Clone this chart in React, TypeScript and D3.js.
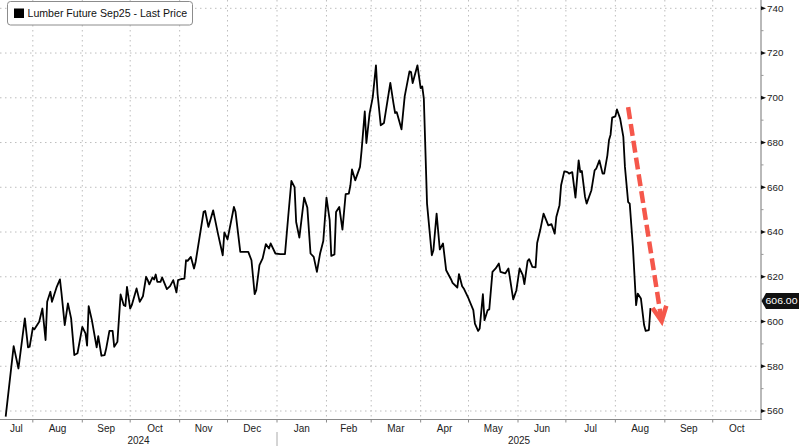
import React from "react";
import * as d3 from "d3";

const seriesName = "Lumber Future Sep25 - Last Price";

const dates = [
  "2024-07-15","2024-07-20","2024-07-23","2024-07-27","2024-07-29","2024-07-30","2024-08-01","2024-08-02","2024-08-04","2024-08-05",
  "2024-08-07","2024-08-09","2024-08-10","2024-08-12","2024-08-13","2024-08-16","2024-08-18","2024-08-19","2024-08-21","2024-08-23",
  "2024-08-25","2024-08-27","2024-08-29","2024-09-01","2024-09-03","2024-09-04","2024-09-05","2024-09-07","2024-09-10","2024-09-11",
  "2024-09-13","2024-09-15","2024-09-16","2024-09-18","2024-09-20","2024-09-21","2024-09-23","2024-09-25","2024-09-27","2024-09-28",
  "2024-09-29","2024-10-01","2024-10-02","2024-10-05","2024-10-07","2024-10-09","2024-10-11","2024-10-12","2024-10-13","2024-10-15",
  "2024-10-16","2024-10-17","2024-10-18","2024-10-20","2024-10-21","2024-10-24","2024-10-26","2024-10-28","2024-10-30","2024-10-31",
  "2024-11-02","2024-11-04","2024-11-05","2024-11-06","2024-11-08","2024-11-10","2024-11-11","2024-11-16","2024-11-17","2024-11-19",
  "2024-11-22","2024-11-25","2024-11-28","2024-11-29","2024-12-01","2024-12-05","2024-12-06","2024-12-09","2024-12-14","2024-12-16",
  "2024-12-18","2024-12-19","2024-12-21","2024-12-23","2024-12-25","2024-12-27","2024-12-28","2024-12-31","2025-01-03","2025-01-06",
  "2025-01-08","2025-01-10","2025-01-12","2025-01-13","2025-01-15","2025-01-18","2025-01-20","2025-01-22","2025-01-24","2025-01-26",
  "2025-01-28","2025-01-30","2025-02-01","2025-02-03","2025-02-04","2025-02-06","2025-02-07","2025-02-09","2025-02-11","2025-02-13",
  "2025-02-15","2025-02-16","2025-02-17","2025-02-19","2025-02-22","2025-02-23","2025-02-25","2025-02-26","2025-02-28","2025-03-02",
  "2025-03-04","2025-03-05","2025-03-07","2025-03-09","2025-03-13","2025-03-15","2025-03-16","2025-03-17","2025-03-20","2025-03-22",
  "2025-03-25","2025-03-26","2025-03-27","2025-03-30","2025-04-01","2025-04-02","2025-04-03","2025-04-05","2025-04-08","2025-04-09",
  "2025-04-11","2025-04-13","2025-04-15","2025-04-17","2025-04-20","2025-04-21","2025-04-24","2025-04-25","2025-04-27","2025-04-28",
  "2025-05-01","2025-05-04","2025-05-05","2025-05-07","2025-05-08","2025-05-10","2025-05-11","2025-05-13","2025-05-14","2025-05-16",
  "2025-05-18","2025-05-20","2025-05-21","2025-05-24","2025-05-26","2025-05-27","2025-05-29","2025-05-31","2025-06-02","2025-06-04",
  "2025-06-05","2025-06-07","2025-06-08","2025-06-10","2025-06-12","2025-06-13","2025-06-15","2025-06-17","2025-06-20","2025-06-22",
  "2025-06-24","2025-06-25","2025-06-27","2025-06-28","2025-06-30","2025-07-02","2025-07-03","2025-07-05","2025-07-07","2025-07-09",
  "2025-07-10","2025-07-11","2025-07-13","2025-07-14","2025-07-17","2025-07-19","2025-07-20","2025-07-22","2025-07-24","2025-07-25",
  "2025-07-27","2025-07-28","2025-07-29","2025-07-30","2025-08-01","2025-08-02","2025-08-04","2025-08-06","2025-08-07","2025-08-09",
  "2025-08-10","2025-08-12","2025-08-14","2025-08-15","2025-08-17","2025-08-19","2025-08-20","2025-08-22","2025-08-23"
];

const prices = [
  557.5,589,579,601.4,588.4,588.7,597.2,596.5,598.8,599.9,
  605.8,591.7,608.8,613.3,608.8,615.5,618.8,612.5,598.4,608.1,
  601.4,585,585.8,597.6,594.7,589.2,606.9,600.6,588.4,593.5,
  584.7,585,588,595.8,595.8,588.7,590.9,612.1,607.3,606.9,
  615.5,605.8,607.3,614.8,608.8,611.3,620,618.5,616.6,619.7,
  618.8,621,617.7,617.7,619.7,614.5,615.8,618.5,613,618.5,
  619,619.2,627.4,627.1,628.9,623.7,626.6,649,649.4,642.3,
  649.7,639.3,629.6,639.8,636.7,651.2,649,631.1,631.1,627.4,
  612.2,614,625.2,628.2,634.6,632.6,634.9,630.4,630.1,630.1,
  646.7,662.8,660.1,644.5,637.5,655.4,650.9,630.4,628.9,622.2,
  630.4,636,655.4,645.3,629.3,630,649,651.2,641.1,656.9,
  657.2,660.9,668,663.1,669.1,676.5,693.9,679.8,692.9,700.3,
  714.5,701.8,687.7,688.7,706.7,697.4,693.2,693.6,685.9,700.6,
  711.8,711.5,706.6,714.5,704.3,705.1,699.6,652.7,629.6,631.9,
  648.2,632.2,634.9,622.9,618.9,617.3,615.2,621.2,615.8,614.8,
  610.3,605.1,599.1,595.8,596.9,612.2,600.6,605.1,605.4,622.2,
  623.7,625.9,622.2,621.5,623.7,619.2,609.9,614,623.7,620.7,
  616.7,627,627.9,624.4,624.2,635.1,641.1,648.2,643,643.5,
  639.3,646.7,652,660.9,667.1,666.8,666.1,666.8,655.4,672,
  666.8,667.3,655.7,652.7,658.7,667.6,668.3,672,666.1,666.1,
  674.3,681,683.5,691.1,691.7,694.8,690.7,682.5,669.1,653.4,
  652.7,633.3,607.3,612.5,610.3,598.4,595.8,596.2,606
];

const yTicks = [560, 580, 600, 620, 640, 660, 680, 700, 720, 740];
const yMinorTicks = [570, 590, 610, 630, 650, 670, 690, 710, 730];
const yearLabels = ["2024", "2025"];
const lastPrice = 606.0;
const arrowDates = ["2025-08-09", "2025-08-30"];
const arrowValues = [695.8, 600.2];

const W = 800;
const H = 446;
const plotRight = 761;
const plotBottom = 419.5;
const font = "'Liberation Sans', Arial, sans-serif";

export default function App() {
  const parse = d3.timeParse("%Y-%m-%d");
  const data = dates.map((d, i) => ({ date: parse(d) as Date, value: prices[i] }));

  const x = d3
    .scaleTime()
    .domain([new Date(2024, 6, 11), new Date(2025, 9, 31)])
    .range([-0.7, 760.6]);
  const y = d3.scaleLinear().domain([560, 740]).range([411, 8.3]);

  const line = d3
    .line<{ date: Date; value: number }>()
    .x((d) => x(d.date))
    .y((d) => y(d.value));

  const monthStarts = d3.timeMonth.range(new Date(2024, 6, 1), new Date(2025, 10, 1));
  const boundaries = monthStarts.filter((m) => x(m) > 0 && x(m) < plotRight);
  const fmt = d3.timeFormat("%b");

  const monthLabels = monthStarts.map((m) => {
    const next = d3.timeMonth.offset(m, 1);
    const a = Math.max(0, x(m));
    const b = Math.min(plotRight, x(next));
    return { label: fmt(m), cx: (a + b) / 2 };
  });

  const yearStart = x(new Date(2025, 0, 1));
  const yearPos = [(0 + yearStart) / 2, (yearStart + plotRight) / 2];

  const ax1 = x(parse(arrowDates[0]) as Date);
  const ay1 = y(arrowValues[0]);
  const ax2 = x(parse(arrowDates[1]) as Date);
  const ay2 = y(arrowValues[1]);
  const ang = Math.atan2(ay2 - ay1, ax2 - ax1);
  const headLen = 16;
  const spread = 0.45;
  const h1 = [ax2 - headLen * Math.cos(ang - spread), ay2 - headLen * Math.sin(ang - spread)];
  const h2 = [ax2 - headLen * Math.cos(ang + spread), ay2 - headLen * Math.sin(ang + spread)];
  const shaftEndX = ax2 - 4 * Math.cos(ang);
  const shaftEndY = ay2 - 4 * Math.sin(ang);

  const lpY = y(lastPrice) - 7;

  return (
    <svg
      width={W}
      height={H}
      style={{ position: "absolute", left: 0, top: 0, background: "#fff" }}
      fontFamily={font}
    >
      <rect x={0} y={0} width={W} height={H} fill="#fff" />
      {/* gridlines */}
      {yTicks.map((t) => (
        <line
          key={"hg" + t}
          x1={0}
          x2={plotRight}
          y1={y(t)}
          y2={y(t)}
          stroke="#bdbdbd"
          strokeWidth={1}
          strokeDasharray="1.5 3.5"
        />
      ))}
      {boundaries.map((m, i) => (
        <line
          key={"vg" + i}
          x1={x(m)}
          x2={x(m)}
          y1={0}
          y2={plotBottom}
          stroke="#bdbdbd"
          strokeWidth={1}
          strokeDasharray="1.5 3.5"
        />
      ))}

      {/* price line */}
      <path d={line(data) || ""} fill="none" stroke="#000" strokeWidth={1.8} strokeLinejoin="round" />

      {/* arrow */}
      <line
        x1={ax1}
        y1={ay1}
        x2={shaftEndX}
        y2={shaftEndY}
        stroke="#f5574b"
        strokeWidth={4.5}
        strokeDasharray="12 5"
      />
      <polyline
        points={`${h1[0]},${h1[1]} ${ax2},${ay2} ${h2[0]},${h2[1]}`}
        fill="none"
        stroke="#f5574b"
        strokeWidth={4.5}
        strokeLinejoin="miter"
      />

      {/* axes */}
      <line x1={plotRight} x2={plotRight} y1={0} y2={plotBottom} stroke="#a8a8a8" strokeWidth={1.6} />
      <line x1={0} x2={plotRight + 0.8} y1={plotBottom} y2={plotBottom} stroke="#8a8a8a" strokeWidth={1} />
      {yMinorTicks.map((t) => (
        <line key={"mt" + t} x1={plotRight} x2={plotRight + 2.5} y1={y(t)} y2={y(t)} stroke="#999" strokeWidth={1} />
      ))}
      {yTicks.map((t) => (
        <g key={"yt" + t}>
          <path
            d={`M${plotRight},${y(t) - 2} L${plotRight + 5},${y(t)} L${plotRight},${y(t) + 2} Z`}
            fill="#111"
          />
          <text x={767} y={y(t)} dy="0.35em" fontSize={9.8} fill="#222">
            {t}
          </text>
        </g>
      ))}

      {/* last price label */}
      <path
        d={`M${plotRight + 0.5},${lpY} L${plotRight + 5},${lpY - 8} L799,${lpY - 8} L799,${lpY + 8} L${plotRight + 5},${lpY + 8} Z`}
        fill="#111"
      />
      <text x={765.5} y={lpY} dy="0.35em" fontSize={9.6} fill="#fff" textLength={32} lengthAdjust="spacingAndGlyphs">
        {lastPrice.toFixed(2)}
      </text>

      {/* x axis ticks and labels */}
      {boundaries.map((m, i) => (
        <line key={"xt" + i} x1={x(m)} x2={x(m)} y1={plotBottom} y2={plotBottom + 3} stroke="#8a8a8a" strokeWidth={1} />
      ))}
      {monthLabels.map((m, i) => (
        <text key={"ml" + i} x={m.cx} y={428} dy="0.35em" textAnchor="middle" fontSize={10} fill="#222">
          {m.label}
        </text>
      ))}
      <line x1={yearStart} x2={yearStart} y1={432} y2={446} stroke="#aaa" strokeWidth={1} />
      {yearLabels.map((l, i) => (
        <text key={"yl" + i} x={yearPos[i]} y={440} dy="0.35em" textAnchor="middle" fontSize={10} fill="#222">
          {l}
        </text>
      ))}

      {/* legend */}
      <rect x={7.5} y={1.5} width={185} height={23.5} rx={3} fill="#fff" stroke="#8c8c8c" strokeWidth={1} />
      <rect x={14} y={8.5} width={10} height={9.5} fill="#000" />
      <text x={27.5} y={13.5} dy="0.35em" fontSize={10.6} fill="#111">
        {seriesName}
      </text>
    </svg>
  );
}
